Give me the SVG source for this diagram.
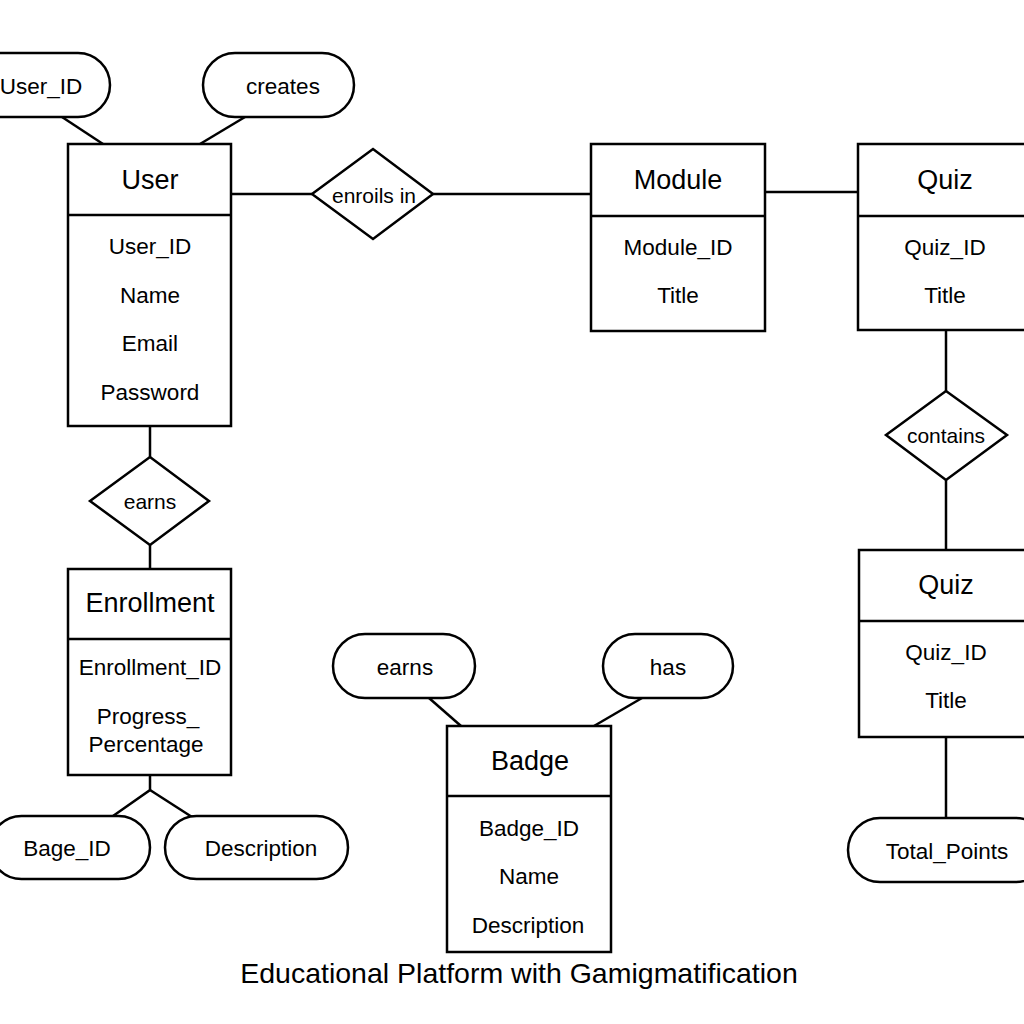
<svg xmlns="http://www.w3.org/2000/svg" width="1024" height="1024" viewBox="0 0 1024 1024">
<style>
.box{fill:#fff;stroke:#000;stroke-width:2.5}
.ln{stroke:#000;stroke-width:2.5;fill:none}
.h{font-family:"Liberation Sans",Arial,sans-serif;font-size:27px;text-anchor:middle;dominant-baseline:central;fill:#000}
.a{font-family:"Liberation Sans",Arial,sans-serif;font-size:22.5px;text-anchor:middle;dominant-baseline:central;fill:#000}
.r{font-family:"Liberation Sans",Arial,sans-serif;font-size:21px;text-anchor:middle;dominant-baseline:central;fill:#000}
.t{font-family:"Liberation Sans",Arial,sans-serif;font-size:28.5px;text-anchor:middle;dominant-baseline:central;fill:#000}
</style>
<rect width="1024" height="1024" fill="#fff"/>
<g id="connectors">
<line class="ln" x1="62" y1="117" x2="103" y2="144"/>
<line class="ln" x1="245" y1="117" x2="200" y2="144"/>
<line class="ln" x1="231" y1="194" x2="312" y2="194"/>
<line class="ln" x1="433" y1="194" x2="591" y2="194"/>
<line class="ln" x1="765" y1="192" x2="858" y2="192"/>
<line class="ln" x1="946" y1="330" x2="946" y2="391"/>
<line class="ln" x1="946" y1="480" x2="946" y2="550"/>
<line class="ln" x1="946" y1="737" x2="946" y2="818"/>
<line class="ln" x1="150" y1="426" x2="150" y2="457"/>
<line class="ln" x1="150" y1="545" x2="150" y2="569"/>
<polyline class="ln" points="150,775 150,790 113,816"/>
<line class="ln" x1="150" y1="790" x2="192" y2="817"/>
<line class="ln" x1="429" y1="698" x2="461" y2="726"/>
<line class="ln" x1="642" y1="698" x2="594" y2="726"/>
</g>
<g id="attr-userid">
<rect class="box" x="-30" y="53" width="140" height="64" rx="32"/>
<text class="a" x="41" y="86">User_ID</text>
</g>
<g id="attr-creates">
<rect class="box" x="203" y="53" width="151" height="64" rx="32"/>
<text class="a" x="283" y="86">creates</text>
</g>
<g id="user">
<rect class="box" x="68" y="144" width="163" height="282"/>
<line class="ln" x1="68" y1="215" x2="231" y2="215"/>
<text class="h" x="150" y="180">User</text>
<text class="a" x="150" y="246">User_ID</text>
<text class="a" x="150" y="295">Name</text>
<text class="a" x="150" y="343">Email</text>
<text class="a" x="150" y="392">Password</text>
</g>
<g id="rel-enrolls">
<polygon class="box" points="312,194 373,149 433,194 373,239"/>
<text class="r" x="374" y="195">enroils in</text>
</g>
<g id="module">
<rect class="box" x="591" y="144" width="174" height="187"/>
<line class="ln" x1="591" y1="216" x2="765" y2="216"/>
<text class="h" x="678" y="180">Module</text>
<text class="a" x="678" y="247">Module_ID</text>
<text class="a" x="678" y="295">Title</text>
</g>
<g id="quiz1">
<rect class="box" x="858" y="144" width="180" height="186"/>
<line class="ln" x1="858" y1="216" x2="1038" y2="216"/>
<text class="h" x="945" y="180">Quiz</text>
<text class="a" x="945" y="247">Quiz_ID</text>
<text class="a" x="945" y="295">Title</text>
</g>
<g id="rel-contains">
<polygon class="box" points="886,435 946,391 1007,435 946,480"/>
<text class="r" x="946" y="435">contains</text>
</g>
<g id="quiz2">
<rect class="box" x="859" y="550" width="180" height="187"/>
<line class="ln" x1="859" y1="621" x2="1039" y2="621"/>
<text class="h" x="946" y="585">Quiz</text>
<text class="a" x="946" y="652">Quiz_ID</text>
<text class="a" x="946" y="700">Title</text>
</g>
<g id="attr-totalpoints">
<rect class="box" x="848" y="818" width="200" height="64" rx="32"/>
<text class="a" x="947" y="851">Total_Points</text>
</g>
<g id="rel-earns">
<polygon class="box" points="90,501 150,457 209,501 150,545"/>
<text class="r" x="150" y="501">earns</text>
</g>
<g id="enrollment">
<rect class="box" x="68" y="569" width="163" height="206"/>
<line class="ln" x1="68" y1="639" x2="231" y2="639"/>
<text class="h" x="150" y="603">Enrollment</text>
<text class="a" x="150" y="667">Enrollment_ID</text>
<text class="a" x="148" y="716">Progress_</text>
<text class="a" x="146" y="744">Percentage</text>
</g>
<g id="attr-bageid">
<rect class="box" x="-10" y="816" width="160" height="63" rx="31.5"/>
<text class="a" x="67" y="848">Bage_ID</text>
</g>
<g id="attr-description">
<rect class="box" x="165" y="816" width="183" height="63" rx="31.5"/>
<text class="a" x="261" y="848">Description</text>
</g>
<g id="attr-earns">
<rect class="box" x="333" y="634" width="142" height="64" rx="32"/>
<text class="a" x="405" y="667">earns</text>
</g>
<g id="attr-has">
<rect class="box" x="603" y="634" width="130" height="64" rx="32"/>
<text class="a" x="668" y="667">has</text>
</g>
<g id="badge">
<rect class="box" x="447" y="726" width="164" height="226"/>
<line class="ln" x1="447" y1="796" x2="611" y2="796"/>
<text class="h" x="530" y="761">Badge</text>
<text class="a" x="529" y="828">Badge_ID</text>
<text class="a" x="529" y="876">Name</text>
<text class="a" x="528" y="925">Description</text>
</g>
<g id="title">
<text class="t" x="519" y="973">Educational Platform with Gamigmatification</text>
</g>
</svg>
